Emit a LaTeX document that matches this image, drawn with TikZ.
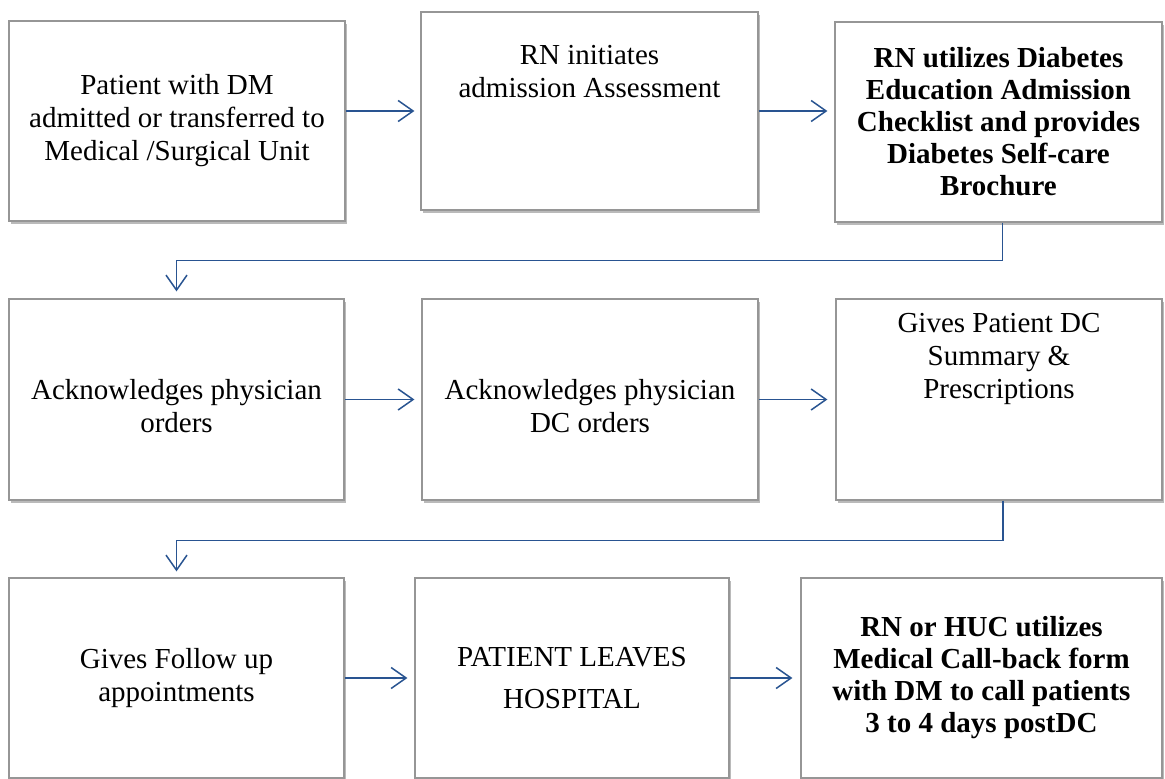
\documentclass[tikz,border=0pt]{standalone}
\usepackage{fontspec}
\setmainfont{Liberation Serif}
\usetikzlibrary{arrows.meta, shadows, positioning}
\tikzstyle{pixels} = [x = 1pt, y = -1pt]
\definecolor{arrowColor}{RGB}{41,84,145}
\definecolor{borderColor}{RGB}{150,150,150}
\tikzstyle{boxStyle} = [draw=borderColor, fill=white, line width=1.2pt, inner sep=0pt, drop shadow={shadow xshift=2pt, shadow yshift=-3pt, opacity=0.45, fill=black!60}]
\tikzstyle{boxText} = [font=\fontsize{29}{33}\selectfont, align=center, text=black]
\tikzstyle{boldText} = [boxText, font=\fontsize{29}{32}\selectfont\bfseries]
\tikzstyle{flowArrow} = [draw=arrowColor, line width=1.5pt, -{Straight Barb[length=15pt, width=21pt]}]
\newcommand{\flowBox}[8]{\node [boxStyle, minimum width={#5-#3}, minimum height={#6-#4}] (#1) at ({(#3+#5)/2}, {(#4+#6)/2}) {};
  \node [#2, yshift=#7pt] (#1Text) at (#1) {#8};}

\begin{document}
\begin{tikzpicture}[pixels]
  \path [use as bounding box, clip] (0,0) rectangle (1165,779);

  % first row
  \flowBox{a}{boxText}{9}{21}{345}{221}{0}{Patient with DM\\admitted or transferred to\\Medical /Surgical Unit}
  \flowBox{b}{boxText}{421}{12}{758}{210}{39}{RN initiates\\admission Assessment}
  \flowBox{c}{boldText}{835}{22}{1162}{222}{0}{RN utilizes Diabetes\\Education Admission\\Checklist and provides\\Diabetes Self-care\\Brochure}

  % second row
  \flowBox{d}{boxText}{9}{299}{344}{500}{-7}{Acknowledges physician\\orders}
  \flowBox{e}{boxText}{422}{299}{758}{500}{-7}{Acknowledges physician\\DC orders}
  \flowBox{f}{boxText}{836}{299}{1162}{500}{41}{Gives Patient DC\\Summary \&\\Prescriptions}

  % third row
  \flowBox{g}{boxText}{9}{578}{344}{778}{0}{Gives Follow up\\appointments}
  \flowBox{h}{boxText}{415}{578}{729}{778}{0}{PATIENT LEAVES\\[9pt]HOSPITAL}
  \flowBox{i}{boldText}{801}{578}{1162}{778}{0}{RN or HUC utilizes\\Medical Call-back form\\with DM to call patients\\3 to 4 days postDC}

  % connectors
  \draw [flowArrow, shorten >=6pt] (a.east |- b.west) -- (b.west);
  \draw [flowArrow, shorten >=7pt] (b.east) -- (c.west |- b.east);
  \draw [flowArrow, shorten >=7pt] ([xshift=4pt]c.south) -- ++(0,38) -| (d.north);
  \draw [flowArrow, shorten >=7pt] (d.east) -- (e.west);
  \draw [flowArrow, shorten >=8pt] (e.east) -- (f.west);
  \draw [flowArrow, shorten >=6pt] ([xshift=4pt]f.south) -- ++(0,40) -| (g.north);
  \draw [flowArrow, shorten >=7pt] (g.east) -- (h.west);
  \draw [flowArrow, shorten >=8pt] (h.east) -- (i.west);
\end{tikzpicture}
\end{document}
